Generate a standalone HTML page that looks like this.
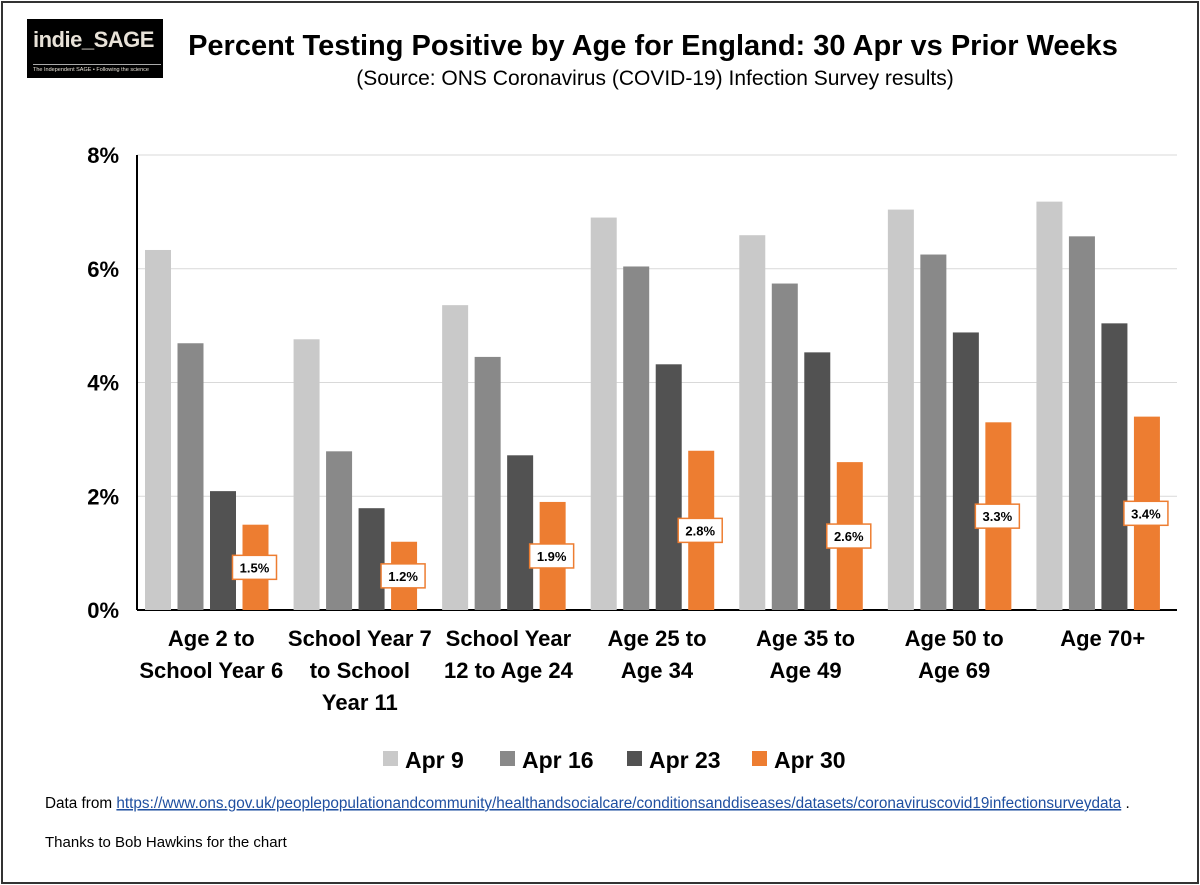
<!DOCTYPE html>
<html><head><meta charset="utf-8"><style>
body{margin:0;background:#fff;font-family:"Liberation Sans",sans-serif}
#wrap{position:relative;width:1200px;height:885px;overflow:hidden}
.frame{position:absolute;left:1px;top:1px;width:1194px;height:879px;border:2px solid #333}
.logo{position:absolute;left:27px;top:19px;width:136px;height:59px;background:#000;color:#e8e2d8}
</style></head><body><div id="wrap">
<div class="frame"></div>
<div class="logo">
<div style="position:absolute;left:6px;top:8px;font-size:22px;font-weight:bold;letter-spacing:-0.5px">indie_SAGE</div>
<div style="position:absolute;left:6px;top:45px;width:128px;border-top:1px solid #aaa"></div>
<div style="position:absolute;left:6px;top:48px;font-size:5.5px;white-space:nowrap">The Independent SAGE • Following the science</div>
</div>
<svg id="svg" width="1200" height="885" style="position:absolute;left:0;top:0">
<text x="653" y="55" text-anchor="middle" font-size="29" font-weight="bold" fill="#000">Percent Testing Positive by Age for England: 30 Apr vs Prior Weeks</text>
<text x="655" y="85" text-anchor="middle" font-size="21" fill="#000">(Source: ONS Coronavirus (COVID-19) Infection Survey results)</text>
<g id="plot"></g>
<text x="45" y="808" font-size="15.3" fill="#000">Data from <tspan fill="#1f4fa0" text-decoration="underline">https://www.ons.gov.uk/peoplepopulationandcommunity/healthandsocialcare/conditionsanddiseases/datasets/coronaviruscovid19infectionsurveydata</tspan> .</text>
<text x="45" y="847" font-size="15" fill="#000">Thanks to Bob Hawkins for the chart</text>
</svg>
<script>
const categories=[["Age 2 to","School Year 6"],["School Year 7","to School","Year 11"],["School Year","12 to Age 24"],["Age 25 to","Age 34"],["Age 35 to","Age 49"],["Age 50 to","Age 69"],["Age 70+"]];
const seriesNames=["Apr 9","Apr 16","Apr 23","Apr 30"];
const apr9=[6.33,4.76,5.36,6.90,6.59,7.04,7.18];
const apr16=[4.69,2.79,4.45,6.04,5.74,6.25,6.57];
const apr23=[2.09,1.79,2.72,4.32,4.53,4.88,5.04];
const apr30=[1.5,1.2,1.9,2.8,2.6,3.3,3.4];
const apr30Labels=["1.5%","1.2%","1.9%","2.8%","2.6%","3.3%","3.4%"];
const yTicks=[0,2,4,6,8];
const yTickLabels=["0%","2%","4%","6%","8%"];
const colors=["#c9c9c9","#898989","#525252","#ed7d31"];
const NS="http://www.w3.org/2000/svg";
const g=document.getElementById('plot');
const x0=137,x1=1177,y0=610,yTop=155,yMax=8;
const y=v=>y0-(v/yMax)*(y0-yTop);
const gw=(x1-x0)/categories.length;
function el(t,a,p){const e=document.createElementNS(NS,t);for(const k in a)e.setAttribute(k,a[k]);(p||g).appendChild(e);return e;}
yTicks.forEach((t,i)=>{
 if(t>0){const l=el('line',{x1:x0,x2:x1,y1:y(t),y2:y(t),stroke:'#d9d9d9','stroke-width':1});
 
 }
 const tx=el('text',{x:x0-18,y:y(t)+8,'text-anchor':'end','font-size':22,'font-weight':'bold'});tx.textContent=yTickLabels[i];
 
 
});
const ax=el('line',{x1:x0,x2:x0,y1:yTop,y2:y0,stroke:'#000','stroke-width':2});


const xa=el('line',{x1:x0,x2:x1,y1:y0,y2:y0,stroke:'#000','stroke-width':2});


const series=[apr9,apr16,apr23,apr30];
const bw=26,step=32.5;
categories.forEach((c,i)=>{
 const gs=x0+gw*i+8;
 series.forEach((s,j)=>{
  const bx=gs+j*step;
  const r=el('rect',{x:bx,y:y(s[i]),width:bw,height:y0-y(s[i]),fill:colors[j]});
  
  
  if(j===3){
   const cx=bx+bw/2-1,cy=(y(s[i])+y0)/2;
   const b=el('rect',{x:cx-22,y:cy-12,width:44,height:24,fill:'#fff',stroke:'#ed7d31','stroke-width':1.5});
   
   
   const t=el('text',{x:cx,y:cy+5,'text-anchor':'middle','font-size':13,'font-weight':'bold'});t.textContent=apr30Labels[i];
   
   
  }
 });
 const cx=x0+gw*(i+0.5);
 c.forEach((ln,k)=>{const t=el('text',{x:cx,y:646+k*32,'text-anchor':'middle','font-size':22,'font-weight':'bold'});t.textContent=ln;
  
  });
});
const lx=[383,500,627,752];
seriesNames.forEach((n,j)=>{
 const r=el('rect',{x:lx[j],y:751,width:15,height:15,fill:colors[j]});
 
 
 const t=el('text',{x:lx[j]+22,y:768,'font-size':23,'font-weight':'bold'});t.textContent=n;
 
 
});
</script></div></body></html>
